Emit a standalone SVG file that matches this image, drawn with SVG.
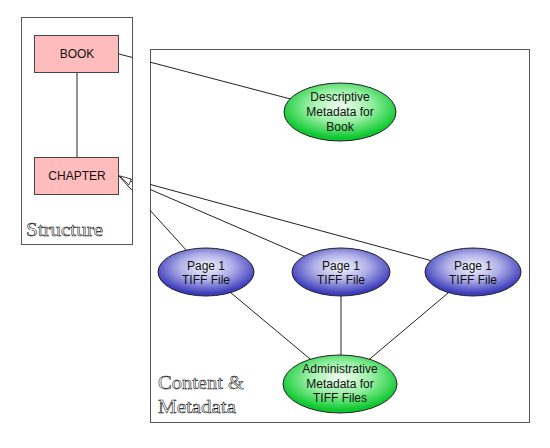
<svg xmlns="http://www.w3.org/2000/svg" width="550" height="448" viewBox="0 0 550 448">
<defs>
<radialGradient id="gBlue" cx="50%" cy="40%" r="55%">
<stop offset="0" stop-color="#f6f6fd"/>
<stop offset="0.5" stop-color="#b0b0e8"/>
<stop offset="1" stop-color="#3c3cbc"/>
</radialGradient>
<radialGradient id="gGreen" cx="50%" cy="40%" r="55%">
<stop offset="0" stop-color="#f4fff4"/>
<stop offset="0.5" stop-color="#98f0a4"/>
<stop offset="1" stop-color="#0cc82e"/>
</radialGradient>
<style>
.frame{fill:#fff;stroke:#555;stroke-width:1}
.rect{fill:#ffbcbc;stroke:#444;stroke-width:1}
.blue{fill:url(#gBlue);stroke:#222;stroke-width:1}
.green{fill:url(#gGreen);stroke:#222;stroke-width:1}
.lbl{font-family:"Liberation Sans",Arial,sans-serif;font-size:12px;fill:#111;text-anchor:middle}
.title{font-family:"Liberation Serif","Times New Roman",serif;font-size:19px;fill:#fff;stroke:#000;stroke-width:0.5}
.conn{fill:none;stroke:#222;stroke-width:1}
</style>
</defs>
<rect width="550" height="448" fill="#fff"/>
<g id="structure-frame">
<rect class="frame" x="21.5" y="17.5" width="111" height="227"/>
<text class="title" x="26" y="236" textLength="77" lengthAdjust="spacingAndGlyphs">Structure</text>
</g>
<g id="content-frame">
<rect class="frame" x="150.5" y="49.5" width="379" height="373"/>
<text class="title" x="158" y="389" textLength="86" lengthAdjust="spacingAndGlyphs">Content &amp;</text>
<text class="title" x="158" y="413" textLength="78" lengthAdjust="spacingAndGlyphs">Metadata</text>
</g>
<g id="connectors">
<path class="conn" d="M77,73 L77,157"/>
<path class="conn" d="M119,54 L132,57.4 M150,62.1 L340,112"/>
<path class="conn" d="M119,176 L132,190.3 M150,210.2 L206,272"/>
<path class="conn" d="M119,176 L132,181.6 M150,189.4 L341,272"/>
<path class="conn" d="M119,176 L132,179.5 M150,184.4 L473,272"/>
<path class="conn" d="M206,272 L340,384"/>
<path class="conn" d="M341,272 L341,384"/>
<path class="conn" d="M473,272 L340,384"/>
<polygon points="120,176 131,179 129,185" fill="#fff" stroke="#333" stroke-width="0.8"/>
</g>
<g id="book">
<rect class="rect" x="34.5" y="35.5" width="84" height="37"/>
<text class="lbl" x="77" y="58">BOOK</text>
</g>
<g id="chapter">
<rect class="rect" x="34.5" y="157.5" width="84" height="37"/>
<text class="lbl" x="77" y="180">CHAPTER</text>
</g>
<g id="descriptive">
<ellipse class="green" cx="340" cy="112" rx="56" ry="29"/>
<text class="lbl" x="340" y="101">Descriptive</text>
<text class="lbl" x="340" y="116">Metadata for</text>
<text class="lbl" x="340" y="131">Book</text>
</g>
<g id="page-a">
<ellipse class="blue" cx="206" cy="272" rx="48" ry="24"/>
<text class="lbl" x="206" y="270">Page 1</text>
<text class="lbl" x="206" y="284">TIFF File</text>
</g>
<g id="page-b">
<ellipse class="blue" cx="341" cy="272" rx="49" ry="24"/>
<text class="lbl" x="341" y="270">Page 1</text>
<text class="lbl" x="341" y="284">TIFF File</text>
</g>
<g id="page-c">
<ellipse class="blue" cx="473" cy="272" rx="48" ry="24"/>
<text class="lbl" x="473" y="270">Page 1</text>
<text class="lbl" x="473" y="284">TIFF File</text>
</g>
<g id="administrative">
<ellipse class="green" cx="340" cy="384" rx="57" ry="29"/>
<text class="lbl" x="340" y="373">Administrative</text>
<text class="lbl" x="340" y="388">Metadata for</text>
<text class="lbl" x="340" y="402">TIFF Files</text>
</g>
</svg>
